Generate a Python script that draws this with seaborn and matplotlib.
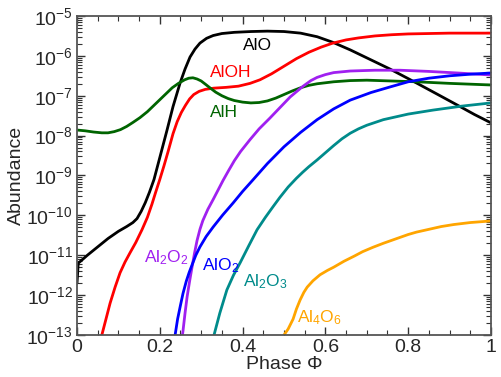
import numpy as np
import pandas as pd
import matplotlib
matplotlib.use('Agg')
import matplotlib.pyplot as plt
import seaborn as sns
from matplotlib.ticker import LogLocator, FixedLocator, MultipleLocator, NullFormatter

# phase values and log10(abundance)
alo_x = [0, 0.003, 0.025, 0.05, 0.075, 0.1, 0.12, 0.135, 0.145, 0.155, 0.165, 0.175, 0.186,
         0.2, 0.217, 0.232, 0.249, 0.261, 0.273, 0.285, 0.297, 0.313, 0.329, 0.35, 0.38,
         0.42, 0.46, 0.5, 0.54, 0.58, 0.618, 0.66, 0.7, 0.756, 0.82, 0.87, 0.925, 0.96, 1.0]
alo_y = [-11.7, -11.2, -11.0, -10.79, -10.58, -10.4, -10.28, -10.18, -10.08, -9.9, -9.68,
         -9.42, -9.1, -8.55, -7.88, -7.27, -6.68, -6.33, -6.03, -5.83, -5.68, -5.56, -5.49,
         -5.44, -5.41, -5.39, -5.38, -5.39, -5.43, -5.52, -5.66, -5.85, -6.05, -6.33, -6.68,
         -6.96, -7.27, -7.47, -7.68]

aloh_x = [0.055, 0.06, 0.07, 0.08, 0.092, 0.104, 0.116, 0.128, 0.142, 0.157, 0.17, 0.181,
          0.19, 0.2, 0.21, 0.22, 0.232, 0.242, 0.252, 0.262, 0.272, 0.282, 0.295, 0.31,
          0.33, 0.36, 0.39, 0.418, 0.442, 0.47, 0.5, 0.53, 0.56, 0.59, 0.618, 0.65, 0.68,
          0.72, 0.76, 0.8, 0.9, 1.0]
aloh_y = [-13.2, -13.0, -12.6, -12.2, -11.8, -11.44, -11.17, -10.94, -10.68, -10.36, -10.05,
          -9.72, -9.42, -9.1, -8.76, -8.4, -7.95, -7.65, -7.42, -7.24, -7.08, -6.97, -6.89,
          -6.84, -6.81, -6.79, -6.76, -6.69, -6.6, -6.45, -6.26, -6.07, -5.91, -5.78, -5.68,
          -5.6, -5.55, -5.5, -5.47, -5.45, -5.43, -5.43]

alh_x = [0, 0.02, 0.04, 0.06, 0.075, 0.09, 0.105, 0.12, 0.135, 0.152, 0.17, 0.185, 0.2,
         0.215, 0.23, 0.245, 0.26, 0.27, 0.28, 0.29, 0.3, 0.31, 0.321, 0.335, 0.35, 0.365,
         0.38, 0.4, 0.42, 0.44, 0.46, 0.48, 0.5, 0.52, 0.54, 0.56, 0.58, 0.62, 0.66, 0.7,
         0.76, 0.82, 0.9, 1.0]
alh_y = [-7.86, -7.88, -7.91, -7.93, -7.93, -7.9, -7.85, -7.77, -7.67, -7.55, -7.4, -7.25,
         -7.1, -6.95, -6.8, -6.69, -6.6, -6.56, -6.55, -6.58, -6.63, -6.71, -6.8, -6.91,
         -7.0, -7.07, -7.12, -7.16, -7.18, -7.17, -7.13, -7.06, -6.97, -6.88, -6.8, -6.74,
         -6.7, -6.65, -6.62, -6.61, -6.63, -6.65, -6.69, -6.73]

al2o2_x = [0.252, 0.256, 0.261, 0.266, 0.272, 0.278, 0.284, 0.29, 0.297, 0.304, 0.316,
           0.329, 0.341, 0.353, 0.366, 0.38, 0.395, 0.418, 0.44, 0.466, 0.49, 0.515, 0.545,
           0.565, 0.58, 0.6, 0.62, 0.66, 0.72, 0.78, 0.85, 0.92, 1.0]
al2o2_y = [-13.2, -12.9, -12.45, -12.04, -11.65, -11.29, -10.94, -10.63, -10.35, -10.13,
           -9.85, -9.6, -9.36, -9.12, -8.88, -8.63, -8.4, -8.1, -7.83, -7.56, -7.3, -7.03,
           -6.77, -6.62, -6.54, -6.47, -6.42, -6.38, -6.36, -6.36, -6.39, -6.43, -6.48]

alo2_x = [0.233, 0.237, 0.243, 0.25, 0.256, 0.264, 0.271, 0.278, 0.287, 0.297, 0.312, 0.329,
          0.352, 0.377, 0.4, 0.425, 0.46, 0.5, 0.54, 0.58, 0.62, 0.66, 0.71, 0.756, 0.8,
          0.85, 0.9, 0.95, 1.0]
alo2_y = [-13.2, -13.0, -12.6, -12.25, -11.96, -11.65, -11.43, -11.24, -11.0, -10.79, -10.53,
          -10.29, -9.99, -9.69, -9.4, -9.11, -8.7, -8.28, -7.92, -7.6, -7.33, -7.11, -6.92,
          -6.78, -6.65, -6.56, -6.5, -6.46, -6.43]

al2o3_x = [0.327, 0.331, 0.345, 0.362, 0.378, 0.394, 0.415, 0.435, 0.455, 0.473, 0.49, 0.51,
           0.53, 0.545, 0.56, 0.58, 0.6, 0.62, 0.64, 0.66, 0.68, 0.7, 0.74, 0.8, 0.86, 0.93,
           1.0]
al2o3_y = [-13.1, -13.0, -12.45, -11.87, -11.5, -11.19, -10.76, -10.36, -10.05, -9.79, -9.55,
           -9.29, -9.07, -8.92, -8.78, -8.61, -8.43, -8.25, -8.08, -7.94, -7.83, -7.74, -7.6,
           -7.46, -7.36, -7.26, -7.18]

al4o6_x = [0.497, 0.5, 0.51, 0.522, 0.53, 0.539, 0.548, 0.556, 0.57, 0.587, 0.605, 0.62,
           0.645, 0.67, 0.69, 0.715, 0.74, 0.77, 0.8, 0.82, 0.85, 0.88, 0.91, 0.95, 1.0]
al4o6_y = [-13.1, -13.0, -12.85, -12.6, -12.35, -12.12, -11.93, -11.8, -11.64, -11.49,
           -11.38, -11.3, -11.15, -11.02, -10.91, -10.8, -10.7, -10.59, -10.48, -10.42,
           -10.35, -10.28, -10.23, -10.18, -10.14]

species = ['AlO', 'AlOH', 'AlH', 'Al2O2', 'AlO2', 'Al2O3', 'Al4O6']
labels = ['AlO', 'AlOH', 'AlH', r'Al$_2$O$_2$', r'AlO$_2$', r'Al$_2$O$_3$', r'Al$_4$O$_6$']
colors = ['black', '#ff0000', '#006400', '#a020f0', '#0000ff', '#008b8b', '#ffa500']
# label anchor (phase, log10 abundance) at text baseline
label_x = [0.401, 0.321, 0.321, 0.162, 0.302, 0.401, 0.531]
label_y = [-5.85, -6.53, -7.53, -11.17, -11.37, -11.79, -12.69]

x_ticks = [0, 0.2, 0.4, 0.6, 0.8, 1.0]
x_ticklabels = ['0', '0.2', '0.4', '0.6', '0.8', '1']
y_decades = list(range(-13, -4))

xs = [alo_x, aloh_x, alh_x, al2o2_x, alo2_x, al2o3_x, al4o6_x]
ys = [alo_y, aloh_y, alh_y, al2o2_y, alo2_y, al2o3_y, al4o6_y]

sns.set_style('ticks')
plt.rcParams['font.family'] = ['Liberation Sans', 'DejaVu Sans']
plt.rcParams['mathtext.default'] = 'regular'

fig, ax = plt.subplots(figsize=(5.01, 3.77), dpi=100)
fig.subplots_adjust(left=0.1537, right=0.98, bottom=0.1114, top=0.9576)

for sp, x, y, c in zip(species, xs, ys, colors):
    df = pd.DataFrame({'phase': x, 'abund': 10.0 ** np.array(y)})
    sns.lineplot(data=df, x='phase', y='abund', color=c, lw=2.0, ax=ax,
                 estimator=None, solid_joinstyle='round')

for lab, lx, ly, c in zip(labels, label_x, label_y, colors):
    ax.text(lx, 10.0 ** ly, lab, color=c, fontsize=12.5, ha='left', va='baseline')

ax.set_yscale('log')
ax.set_xlim(0, 1)
ax.set_ylim(1e-13, 1e-5)
ax.xaxis.set_major_locator(FixedLocator(x_ticks))
ax.set_xticklabels(x_ticklabels)
ax.xaxis.set_minor_locator(MultipleLocator(0.05))
ax.set_yticks([10.0 ** k for k in y_decades])
ax.set_yticklabels([r'$10^{%d}$' % k for k in y_decades])
ax.yaxis.set_minor_locator(LogLocator(base=10, subs=np.arange(2, 10), numticks=20))
ax.yaxis.set_minor_formatter(NullFormatter())

ax.tick_params(which='both', direction='in', top=True, right=True, color='#333333')
ax.tick_params(which='major', length=6, width=1)
ax.tick_params(which='minor', length=3.5, width=0.8)
ax.tick_params(axis='x', labelsize=14, pad=3)
ax.tick_params(axis='y', labelsize=14, pad=3)
for s in ax.spines.values():
    s.set_color('#555555')
    s.set_linewidth(1.3)

ax.set_xlabel('Phase Φ', fontsize=14, labelpad=0)
ax.set_ylabel('Abundance', fontsize=14, labelpad=1)

fig.savefig('out.png', dpi=100)
